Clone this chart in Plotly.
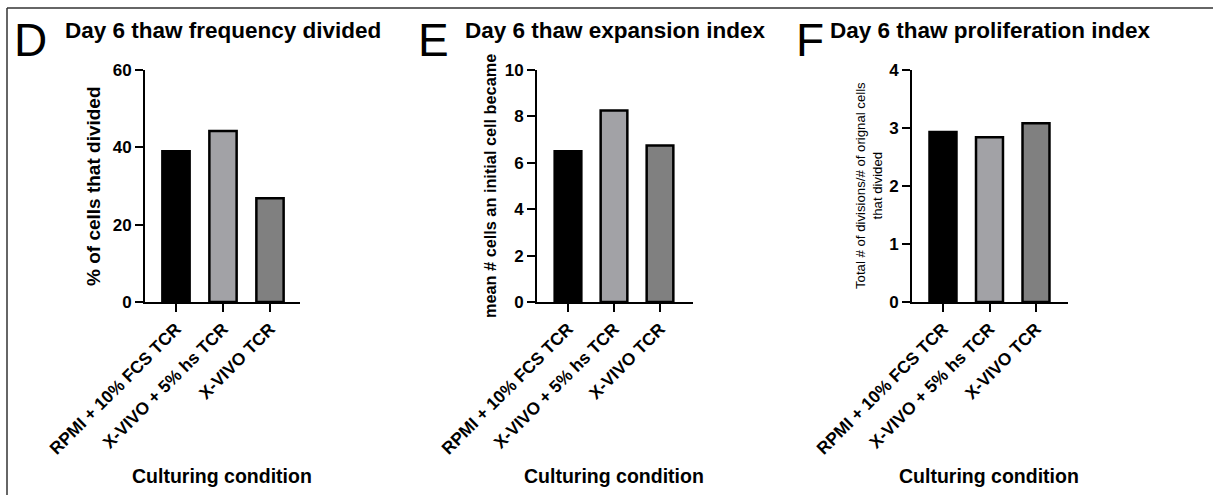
import plotly.graph_objects as go

W, H = 1213, 495

categories = ["RPMI + 10% FCS TCR", "X-VIVO + 5% hs TCR", "X-VIVO TCR"]
bar_colors = ["#000000", "#a2a2a6", "#808080"]

freq_divided = [39.0, 44.2, 26.8]
expansion_index = [6.5, 8.25, 6.75]
proliferation_index = [2.93, 2.84, 3.08]

titles = ["Day 6 thaw frequency divided", "Day 6 thaw expansion index", "Day 6 thaw proliferation index"]
letters = ["D", "E", "F"]
y_titles = ["% of cells that divided", "mean # cells an initial cell became",
            "Total # of divisions/# of orignal cells<br>that divided"]
x_title = "Culturing condition"
y_ticks = [[0, 20, 40, 60], [0, 2, 4, 6, 8, 10], [0, 1, 2, 3, 4]]
y_ranges = [[0, 60], [0, 10], [0, 4]]

FONT = "Arial, Liberation Sans, sans-serif"

# layout (pixel) helpers
px_x = lambda v: v / W
px_y = lambda v: 1 - v / H

panels = [
    dict(ax0=145, ax1=300, tick0=176, step=47, letter_x=30, title_x=63,
         ytitle_x=93, ytitle_size=19, ytitle_bold=True, xtitle_x=222),
    dict(ax0=537, ax1=693, tick0=568, step=46, letter_x=433, title_x=463,
         ytitle_x=490, ytitle_size=16.3, ytitle_bold=True, xtitle_x=614),
    dict(ax0=912, ax1=1068, tick0=943, step=46.5, letter_x=810, title_x=828,
         ytitle_x=869, ytitle_size=13.2, ytitle_bold=False, xtitle_x=989),
]
values = [freq_divided, expansion_index, proliferation_index]

fig = go.Figure()
annotations = []
layout_axes = {}
for i, (p, vals) in enumerate(zip(panels, values)):
    n = "" if i == 0 else str(i + 1)
    fig.add_trace(go.Bar(
        x=list(range(len(categories))), y=vals,
        marker=dict(color=bar_colors, line=dict(color="black", width=2.5)),
        width=0.58, xaxis="x" + n, yaxis="y" + n, showlegend=False,
        hovertext=categories,
    ))
    left = (p["ax0"] - p["tick0"]) / p["step"]
    right = (p["ax1"] - p["tick0"]) / p["step"]
    layout_axes["xaxis" + n] = dict(
        domain=[px_x(p["ax0"]), px_x(p["ax1"])], range=[left, right],
        anchor="y" + n, tickmode="array", tickvals=list(range(len(categories))),
        ticktext=categories, tickangle=-45, ticks="outside", ticklen=8, tickwidth=2,
        tickcolor="black", showline=True, linecolor="black", linewidth=2,
        showgrid=False, zeroline=False, automargin=False,
        tickfont=dict(family=FONT, size=17.3, color="black", weight="bold"),
    )
    layout_axes["yaxis" + n] = dict(
        domain=[px_y(302), px_y(70)], range=y_ranges[i], anchor="x" + n,
        tickmode="array", tickvals=y_ticks[i], ticks="outside", ticklen=8, tickwidth=2,
        tickcolor="black", showline=True, linecolor="black", linewidth=2,
        showgrid=False, zeroline=False, automargin=False,
        tickfont=dict(family=FONT, size=17, color="black", weight="bold"),
    )
    annotations.append(dict(text=letters[i], x=px_x(p["letter_x"]), y=px_y(40),
                            xref="paper", yref="paper", showarrow=False,
                            xanchor="center", yanchor="middle",
                            font=dict(family=FONT, size=46, color="black")))
    annotations.append(dict(text=titles[i], x=px_x(p["title_x"]), y=px_y(31),
                            xref="paper", yref="paper", showarrow=False,
                            xanchor="left", yanchor="middle",
                            font=dict(family=FONT, size=22.5, color="black", weight="bold")))
    annotations.append(dict(text=y_titles[i], x=px_x(p["ytitle_x"]), y=px_y(186),
                            xref="paper", yref="paper", showarrow=False, textangle=-90,
                            xanchor="center", yanchor="middle",
                            font=dict(family=FONT, size=p["ytitle_size"], color="black",
                                      weight="bold" if p["ytitle_bold"] else "normal")))
    annotations.append(dict(text=x_title, x=px_x(p["xtitle_x"]), y=px_y(476),
                            xref="paper", yref="paper", showarrow=False,
                            xanchor="center", yanchor="middle",
                            font=dict(family=FONT, size=19.5, color="black", weight="bold")))

fig.update_layout(
    width=W, height=H, margin=dict(l=0, r=0, t=0, b=0, pad=0, autoexpand=False),
    paper_bgcolor="white", plot_bgcolor="white",
    annotations=annotations, bargap=0.4,
    shapes=[
        dict(type="line", xref="paper", yref="paper", x0=px_x(7), x1=1, y0=px_y(8), y1=px_y(8),
             line=dict(color="#333333", width=1.5)),
        dict(type="line", xref="paper", yref="paper", x0=px_x(7), x1=px_x(7), y0=px_y(8), y1=0,
             line=dict(color="#333333", width=1.5)),
    ],
    **layout_axes,
)

fig.write_html("out.html")
